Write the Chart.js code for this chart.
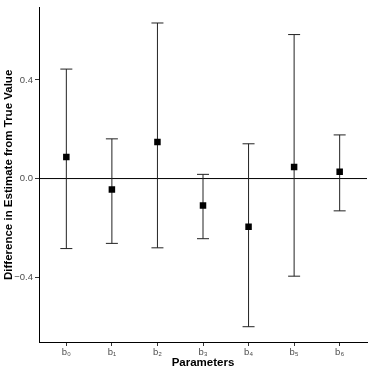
<!DOCTYPE html>
<html>
<head>
<meta charset="utf-8">
<script src="https://cdn.jsdelivr.net/npm/chart.js@4.4.1/dist/chart.umd.min.js"></script>
<style>
  html, body { margin: 0; padding: 0; background: #fff; }
  #wrap { width: 374px; height: 374px; }
</style>
</head>
<body>
<div id="wrap"><canvas id="chart"></canvas></div>
<script>
// parameter labels and estimates
const params = ['b₀', 'b₁', 'b₂', 'b₃', 'b₄', 'b₅', 'b₆'];
const estimates = [0.087, -0.044, 0.148, -0.109, -0.196, 0.047, 0.028];
const lowers = [-0.284, -0.263, -0.281, -0.244, -0.601, -0.396, -0.131];
const uppers = [0.444, 0.161, 0.631, 0.017, 0.141, 0.584, 0.177];
const yTicks = [-0.4, 0, 0.4];

const xMin = -0.6, xMax = params.length - 0.4;
const yMin = -0.663, yMax = 0.693;
const font = "'Liberation Sans', Arial, Helvetica, sans-serif";

// vertical error bar segments, broken by nulls
const barSegments = params.flatMap((_, i) => [
  { x: i, y: lowers[i] }, { x: i, y: uppers[i] }, { x: i, y: null }
]);
const caps = params.flatMap((_, i) => [
  { x: i, y: lowers[i] }, { x: i, y: uppers[i] }
]);
const points = estimates.map((v, i) => ({ x: i, y: v }));

new Chart(document.getElementById('chart'), {
  type: 'scatter',
  data: {
    datasets: [
      {
        data: points,
        pointStyle: 'rect',
        pointRadius: 4.6,
        backgroundColor: '#000',
        borderColor: '#000',
        borderWidth: 0,
        order: 0
      },
      {
        data: caps,
        pointStyle: 'line',
        pointRadius: 6,
        borderColor: '#222',
        borderWidth: 1,
        order: 1
      },
      {
        data: barSegments,
        showLine: true,
        spanGaps: false,
        pointRadius: 0,
        borderColor: '#222',
        borderWidth: 1,
        order: 2
      },
      {
        data: [{ x: xMin, y: 0 }, { x: xMax, y: 0 }],
        showLine: true,
        pointRadius: 0,
        borderColor: '#000',
        borderWidth: 1,
        order: 3
      }
    ]
  },
  options: {
    responsive: true,
    maintainAspectRatio: false,
    animation: false,
    events: [],
    layout: { padding: { top: 4, right: 4, left: 0, bottom: 0 } },
    plugins: {
      legend: { display: false },
      tooltip: { enabled: false }
    },
    scales: {
      x: {
        type: 'linear',
        min: xMin,
        max: xMax,
        afterBuildTicks: (s) => { s.ticks = params.map((_, i) => ({ value: i })); },
        afterFit: (s) => { s.height = 32; },
        ticks: {
          autoSkip: false,
          maxRotation: 0,
          padding: 1,
          color: '#4D4D4D',
          font: { family: font, size: 9.5 },
          callback: (v) => params[v]
        },
        grid: { drawOnChartArea: false, drawTicks: true, tickLength: 4, color: '#333' },
        border: { display: true, color: '#000', width: 1 },
        title: {
          display: true,
          text: 'Parameters',
          color: '#000',
          font: { family: font, size: 11.5, weight: 'bold' },
          padding: { top: 4, bottom: 4 }
        }
      },
      y: {
        min: yMin,
        max: yMax,
        afterBuildTicks: (s) => { s.ticks = yTicks.map((v) => ({ value: v })); },
        afterFit: (s) => { s.width = 39; },
        ticks: {
          padding: 2,
          color: '#4D4D4D',
          font: { family: font, size: 9.5 },
          callback: (v) => (v < 0 ? '\u2212' : '') + Math.abs(v).toFixed(1)
        },
        grid: { drawOnChartArea: false, drawTicks: true, tickLength: 4, color: '#333' },
        border: { display: true, color: '#000', width: 1 },
        title: {
          display: true,
          text: 'Difference in Estimate from True Value',
          color: '#000',
          font: { family: font, size: 11.5, weight: 'bold' },
          padding: { top: 2, bottom: 2 }
        }
      }
    }
  }
});
</script>
</body>
</html>
